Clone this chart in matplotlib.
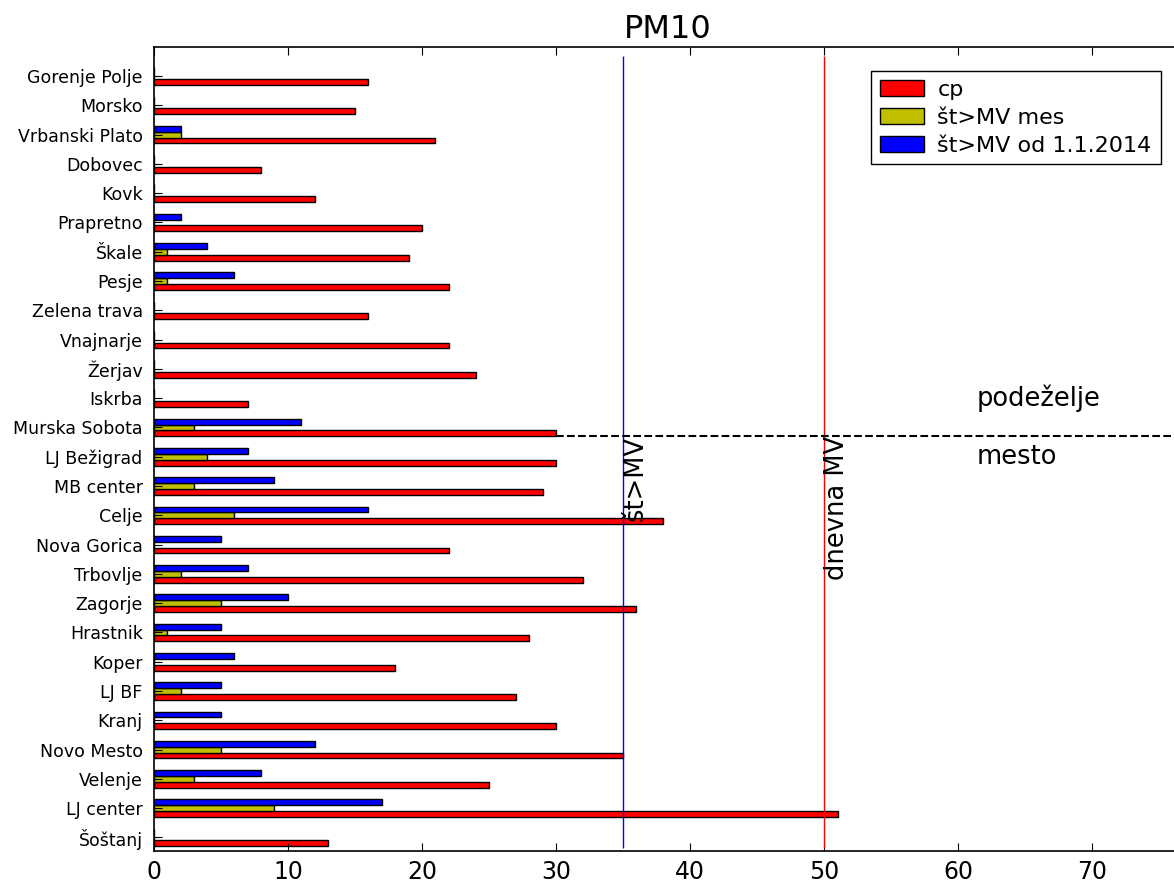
import numpy as np
import matplotlib
matplotlib.use('Agg')
import matplotlib.pyplot as plt

# postaje od spodaj navzgor
postaje = ['Šoštanj', 'LJ center', 'Velenje', 'Novo Mesto', 'Kranj', 'LJ BF', 'Koper',
           'Hrastnik', 'Zagorje', 'Trbovlje', 'Nova Gorica', 'Celje', 'MB center',
           'LJ Bežigrad', 'Murska Sobota', 'Iskrba', 'Žerjav', 'Vnajnarje', 'Zelena trava',
           'Pesje', 'Škale', 'Prapretno', 'Kovk', 'Dobovec', 'Vrbanski Plato', 'Morsko',
           'Gorenje Polje']
cp = [13, 51, 25, 35, 30, 27, 18, 28, 36, 32, 22, 38, 29, 30, 30, 7, 24, 22, 16,
      22, 19, 20, 12, 8, 21, 15, 16]
st_mes = [0, 9, 3, 5, 0, 2, 0, 1, 5, 2, 0, 6, 3, 4, 3, 0, 0, 0, 0,
          1, 1, 0, 0, 0, 2, 0, 0]
st_leto = [0, 17, 8, 12, 5, 5, 6, 5, 10, 7, 5, 16, 9, 7, 11, 0, 0, 0, 0,
           6, 4, 2, 0, 0, 2, 0, 0]

ind = np.arange(len(postaje))
w = 0.2

fig = plt.figure(figsize=(11.74, 8.83), dpi=100)
ax = fig.add_axes([0.131, 0.036, 1.007 - 0.131, 0.911])

b1 = ax.barh(ind, cp, w, align='edge', color='r', edgecolor='k', linewidth=1)
b2 = ax.barh(ind + w, st_mes, w, align='edge', color=(0.75, 0.75, 0), edgecolor='k', linewidth=1)
b3 = ax.barh(ind + 2 * w, st_leto, w, align='edge', color='b', edgecolor='k', linewidth=1)

ax.vlines(35, -0.05, 27, color='b', linewidth=1)
ax.vlines(50, -0.05, 27, color='r', linewidth=1)
ax.hlines(14, 30, 80, colors='k', linestyles='--', linewidth=1.5)

ax.text(35, 14, 'št>MV', rotation=90, ha='left', va='top', fontsize=18.5)
ax.text(50, 14, 'dnevna MV', rotation=90, ha='left', va='top', fontsize=18.5)
ax.text(61.4, 15.3, 'podeželje', ha='left', va='center', fontsize=18.5)
ax.text(61.4, 13.3, 'mesto', ha='left', va='center', fontsize=18.5)

ax.set_xlim(0, 76.7)
ax.set_ylim(-0.17, 27.3)
ax.set_yticks(ind + 0.3)
ax.set_yticklabels(postaje, fontsize=12.5)
ax.set_xticks(np.arange(0, 71, 10))
ax.tick_params(axis='x', labelsize=17, direction='in', top=True, length=6, pad=6)
ax.tick_params(axis='y', direction='in', right=True, length=6, pad=8)
for s in ax.spines.values():
    s.set_linewidth(1.2)

ax.set_title('PM10', fontsize=23, pad=6)

fig.legend([b1, b2, b3], ['cp', 'št>MV mes', 'št>MV od 1.1.2014'],
           loc='upper right', bbox_to_anchor=(0.998, 0.932), fontsize=16,
           fancybox=False, edgecolor='k', framealpha=1, handlelength=2.0,
           handletextpad=0.6, borderpad=0.4, labelspacing=0.35)

fig.savefig('out.png', dpi=100, facecolor='white')
